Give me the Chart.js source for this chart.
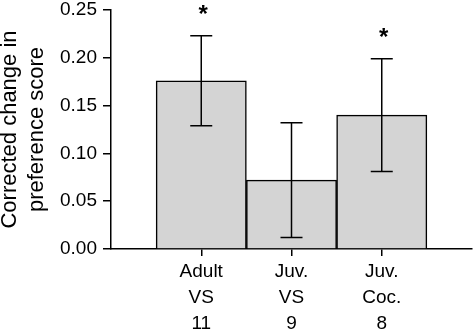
<!DOCTYPE html>
<html>
<head>
<meta charset="utf-8">
<script src="https://cdn.jsdelivr.net/npm/chart.js@4/dist/chart.umd.min.js"></script>
<style>
  html, body { margin: 0; padding: 0; background: #fff; }
  #wrap { width: 475px; height: 333px; }
</style>
</head>
<body>
<div id="wrap"><canvas id="scoreChart" width="475" height="333"></canvas></div>
<script>
// Group labels (line 1, line 2, n)
const groupLabels = [
  ['Adult', 'VS', '11'],
  ['Juv.', 'VS', '9'],
  ['Juv.', 'Coc.', '8']
];
const xPositions = [0, 1, 2];
const meanChange = [0.176, 0.072, 0.140];
const errorSize = [0.047, 0.060, 0.059];
const significant = [true, false, true];
const yTicks = [0, 0.05, 0.10, 0.15, 0.20, 0.25];

const FONT = '"Liberation Sans", Arial, Helvetica, sans-serif';

// Error bars and significance stars drawn on top of the bars
const errorBarPlugin = {
  id: 'errorBars',
  afterDatasetsDraw(chart) {
    const ctx = chart.ctx;
    const x = chart.scales.x;
    const y = chart.scales.y;
    ctx.save();
    ctx.strokeStyle = '#000';
    ctx.lineWidth = 1.5;
    meanChange.forEach((m, i) => {
      const px = x.getPixelForValue(xPositions[i]);
      const top = y.getPixelForValue(m + errorSize[i]);
      const bot = y.getPixelForValue(m - errorSize[i]);
      const cap = 11;
      ctx.beginPath();
      ctx.moveTo(px, top);
      ctx.lineTo(px, bot);
      ctx.moveTo(px - cap, top);
      ctx.lineTo(px + cap, top);
      ctx.moveTo(px - cap, bot);
      ctx.lineTo(px + cap, bot);
      ctx.stroke();
      if (significant[i]) {
        ctx.fillStyle = '#000';
        ctx.font = 'bold 24px ' + FONT;
        ctx.textAlign = 'center';
        ctx.textBaseline = 'alphabetic';
        ctx.fillText('*', px + 2, top - 14);
      }
    });
    ctx.restore();
  }
};

const ctx = document.getElementById('scoreChart').getContext('2d');
const chart = new Chart(ctx, {
  type: 'bar',
  data: {
    datasets: [{
      data: meanChange.map((m, i) => ({ x: xPositions[i], y: m })),
      backgroundColor: '#d4d4d4',
      borderColor: '#000',
      borderWidth: 1.5,
      barPercentage: 1,
      categoryPercentage: 1
    }]
  },
  options: {
    responsive: false,
    animation: false,
    layout: { padding: { top: 10, right: 3, left: 0, bottom: 0 } },
    plugins: {
      legend: { display: false },
      tooltip: { enabled: false }
    },
    scales: {
      x: {
        type: 'linear',
        min: -1,
        max: 3,
        offset: false,
        afterBuildTicks: s => { s.ticks = xPositions.map(v => ({ value: v })); },
        afterFit: s => {
          s.height = 84;
          s.paddingLeft = 0;
          s.paddingRight = 0;
        },
        border: { color: '#000', width: 1.5 },
        grid: {
          offset: false,
          drawOnChartArea: false,
          drawTicks: true,
          tickLength: 7,
          color: '#000',
          lineWidth: 1.5
        },
        ticks: {
          autoSkip: false,
          maxRotation: 0,
          padding: 3,
          color: '#000',
          font: { family: FONT, size: 19, lineHeight: 1.36 },
          callback: v => groupLabels[xPositions.indexOf(v)]
        }
      },
      y: {
        min: 0,
        max: 0.25,
        afterBuildTicks: s => { s.ticks = yTicks.map(v => ({ value: v })); },
        afterFit: s => {
          s.width = 111;
          s.paddingTop = 0;
          s.paddingBottom = 0;
        },
        border: { color: '#000', width: 1.5 },
        grid: {
          drawOnChartArea: false,
          drawTicks: true,
          tickLength: 8,
          color: '#000',
          lineWidth: 1.5
        },
        ticks: {
          padding: 6,
          color: '#000',
          font: { family: FONT, size: 19, lineHeight: 1 },
          callback: v => v.toFixed(2)
        },
        title: {
          display: true,
          text: ['Corrected change in', 'preference score'],
          color: '#000',
          font: { family: FONT, size: 22, lineHeight: 1.2 },
          padding: { top: -3, bottom: 0 }
        }
      }
    }
  },
  plugins: [errorBarPlugin]
});
</script>
</body>
</html>
